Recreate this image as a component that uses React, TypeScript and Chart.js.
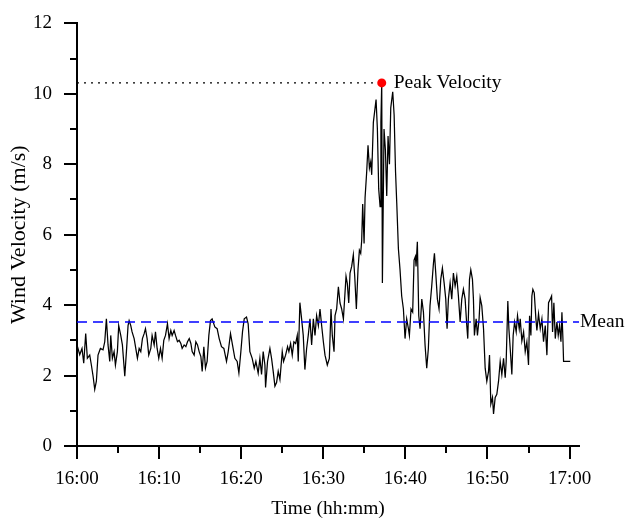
import React, { useEffect, useRef } from "react";
import { Chart, registerables } from "chart.js";

Chart.register(...registerables);

// minutes after 16:00
const times = [
  0.00, 0.33, 0.61, 0.82, 1.06, 1.26, 1.55, 1.75, 1.96, 2.16, 2.36, 2.56, 2.85, 3.17, 3.38, 3.58, 3.78, 3.99, 4.11, 4.31,
  4.52, 4.68, 4.92, 5.08, 5.33, 5.53, 5.82, 6.02, 6.22, 6.35, 6.55, 6.71, 6.96, 7.16, 7.36, 7.57, 7.77, 7.97, 8.18, 8.34,
  8.54, 8.74, 8.99, 9.15, 9.40, 9.56, 9.76, 9.96, 10.17, 10.37, 10.57, 10.78, 11.02, 11.22, 11.43, 11.59, 11.83, 12.00, 12.24, 12.44,
  12.65, 12.81, 13.05, 13.26, 13.46, 13.67, 13.87, 14.03, 14.27, 14.48, 14.68, 14.88, 15.09, 15.25,
  15.45, 15.65, 15.85, 16.06, 16.26, 16.46, 16.79, 17.07, 17.32, 17.60, 17.89, 18.21, 18.42, 18.70, 18.94, 19.23, 19.51, 19.72, 19.96, 20.16,
  20.37, 20.65, 20.85, 21.06, 21.34, 21.59, 21.79, 22.07, 22.28, 22.48, 22.68, 22.89, 22.97, 23.21, 23.50, 23.70, 23.90, 24.11, 24.31, 24.51,
  24.72, 25.00, 25.16, 25.41, 25.65, 25.81, 26.02, 26.22, 26.42, 26.63, 26.83, 26.95, 27.15, 27.36, 27.56, 27.76, 27.97, 28.17,
  28.38, 28.58, 28.79, 28.99, 29.19, 29.40, 29.60, 29.80, 30.01, 30.21, 30.49, 30.74, 30.94, 31.10, 31.31, 31.43, 31.63, 31.84, 32.04, 32.24,
  32.45, 32.57, 32.77, 32.93, 33.10, 33.26, 33.46, 33.66, 33.83, 34.03, 34.23, 34.40, 34.56, 34.68, 34.80, 34.97, 35.09, 35.29, 35.45, 35.62,
  35.78, 35.90, 36.10, 36.31, 36.43, 36.59, 36.75, 36.92, 37.02, 37.12, 37.20, 37.40, 37.57, 37.73, 37.89, 38.06, 38.22, 38.46, 38.63, 38.80,
  38.95, 39.15,
  39.35, 39.55, 39.76, 39.96, 40.16, 40.37, 40.49, 40.69, 40.89, 41.06, 41.22, 41.30, 41.46, 41.63, 41.79, 42.00, 42.20, 42.40, 42.60, 42.80,
  43.00, 43.21, 43.42, 43.54, 43.70, 43.90, 44.10, 44.31, 44.51, 44.72, 44.92, 45.08, 45.24, 45.45, 45.65, 45.85, 46.06, 46.26, 46.46, 46.67,
  46.87, 47.07, 47.28, 47.48, 47.60, 47.81, 47.97, 48.17, 48.29, 48.41, 48.62, 48.78, 48.98,
  49.11, 49.31, 49.52, 49.72, 49.92, 50.13, 50.25, 50.41, 50.61, 50.74, 50.94, 51.14, 51.35, 51.55, 51.75, 51.96, 52.16, 52.28, 52.48, 52.61,
  52.77, 52.97, 53.13, 53.30, 53.50, 53.66, 53.87, 53.99, 54.19, 54.40, 54.60, 54.80, 55.00, 55.13, 55.29, 55.41, 55.53, 55.70, 55.90, 56.02,
  56.22, 56.43, 56.63, 56.83, 57.04, 57.24, 57.44, 57.65, 57.81, 57.93, 58.09, 58.26, 58.46, 58.62, 58.78, 58.95, 59.07, 59.19, 59.27, 60.09,
];

// wind velocity (m/s)
const speeds = [
  2.87, 2.59, 2.77, 2.35, 3.19, 2.49, 2.58, 2.30, 1.98, 1.61, 1.84, 2.58, 2.77, 2.73, 2.96, 3.61, 2.87, 2.40, 3.14, 2.49,
  2.68, 2.30, 2.68, 3.42, 3.14, 2.87, 1.98, 2.68, 3.42, 3.56, 3.42, 3.24, 3.05, 2.77, 2.49, 2.77, 2.68, 3.05, 3.19, 3.33,
  3.05, 2.58, 2.77, 3.14, 2.87, 3.24, 2.77, 2.49, 2.77, 2.49, 3.00, 3.14, 3.47, 3.05, 3.28, 3.14, 3.28, 3.14, 2.96, 3.00,
  2.91, 2.77, 2.87, 2.82, 2.96, 3.05, 2.91, 2.68, 2.58, 2.96, 2.87, 2.68, 2.54, 2.12,
  2.82, 2.21, 2.40, 3.14, 3.56, 3.61, 3.38, 3.33, 3.05, 2.82, 2.77, 2.40, 2.68, 3.19, 2.87, 2.49, 2.40, 2.07, 2.68, 3.24,
  3.61, 3.66, 3.47, 2.68, 2.49, 2.21, 2.40, 2.07, 2.49, 2.03, 2.68, 2.30, 1.66, 2.40, 2.77, 2.49, 2.12, 1.70, 1.80, 2.12,
  1.89, 2.68, 2.40, 2.58, 2.82, 2.68, 2.91, 2.58, 2.96, 2.91, 3.14, 2.40, 4.07, 3.61, 3.14, 2.17, 2.77, 3.14,
  3.61, 2.87, 3.61, 3.14, 3.70, 3.42, 3.89, 3.42, 2.96, 2.58, 2.30, 2.49, 3.89, 3.14, 2.68, 3.70, 3.89, 4.52, 4.06, 3.89,
  3.61, 4.06, 4.82, 4.61, 4.06, 4.91, 5.10, 5.43, 4.82, 3.89, 5.01, 5.56, 5.47, 5.84, 6.87, 5.75, 7.05, 7.79, 8.54, 7.89,
  8.07, 7.70, 9.19, 9.60, 9.84, 9.00, 7.30, 6.80, 9.20, 10.31, 4.63, 9.00, 8.40, 7.10, 8.80, 8.00, 9.60, 10.06, 9.40, 7.80,
  6.90, 5.60,
  5.00, 4.26, 3.89, 3.05, 3.61, 3.33, 3.14, 3.89, 3.80, 5.28, 5.38, 5.10, 5.80, 3.70, 3.33, 4.17, 3.80, 2.86, 2.21, 2.77,
  3.98, 4.54, 5.19, 5.47, 4.91, 4.17, 3.89, 4.73, 5.05, 4.63, 4.17, 3.33, 4.17, 4.63, 4.17, 4.91, 4.54, 4.82, 4.26, 3.52,
  4.17, 4.45, 4.17, 3.42, 3.05, 4.73, 5.00, 4.73, 4.17, 3.14, 3.61, 3.14, 3.61,
  4.21, 3.98, 3.33, 2.21, 1.84, 2.12, 2.58, 1.19, 1.38, 0.91, 1.38, 1.47, 1.84, 2.40, 2.03, 2.49, 1.94, 2.40, 4.12, 3.33,
  2.77, 2.03, 3.14, 3.52, 3.24, 3.70, 3.33, 3.61, 2.98, 3.24, 2.68, 2.96, 2.30, 3.70, 3.14, 4.26, 4.45, 4.35, 3.61, 3.28,
  3.75, 3.33, 3.61, 2.96, 3.42, 2.58, 4.07, 4.17, 4.26, 3.24, 4.07, 3.05, 3.52, 3.14, 3.42, 2.96, 3.80, 3.05, 2.40, 2.40,
];

const meanVelocity = 3.52;
const peakTime = 37.12;
const peakVelocity = 10.31;

const xMajorTicks = [0, 10, 20, 30, 40, 50, 60];
const xTickLabels = ["16:00", "16:10", "16:20", "16:30", "16:40", "16:50", "17:00"];
const xMinorTicks = [5, 15, 25, 35, 45, 55];
const yMajorTicks = [0, 2, 4, 6, 8, 10, 12];
const yMinorTicks = [1, 3, 5, 7, 9, 11];
const X_MAX = 61.15;

const SERIF = '"Liberation Serif", "Times New Roman", Times, serif';

export default function App() {
  const ref = useRef<HTMLCanvasElement>(null);

  useEffect(() => {
    const canvas = ref.current;
    if (!canvas) return;

    const annotate = {
      id: "annotate",
      afterDraw(chart: any) {
        const { ctx, chartArea, scales } = chart;
        const xs = scales.x;
        const ys = scales.y;
        ctx.save();
        ctx.strokeStyle = "#000";
        ctx.lineWidth = 2;
        ctx.beginPath();
        xMinorTicks.forEach((v) => {
          const px = Math.round(xs.getPixelForValue(v));
          ctx.moveTo(px, chartArea.bottom);
          ctx.lineTo(px, chartArea.bottom + 7);
        });
        yMinorTicks.forEach((v) => {
          const py = Math.round(ys.getPixelForValue(v));
          ctx.moveTo(chartArea.left, py);
          ctx.lineTo(chartArea.left - 7, py);
        });
        ctx.stroke();
        ctx.fillStyle = "#000";
        ctx.font = `19.5px ${SERIF}`;
        ctx.textBaseline = "middle";
        ctx.textAlign = "left";
        ctx.fillText("Peak Velocity", xs.getPixelForValue(peakTime) + 12, ys.getPixelForValue(peakVelocity));
        ctx.fillText("Mean", chartArea.right + 1, ys.getPixelForValue(meanVelocity));
        ctx.restore();
      },
    };

    const chart = new Chart(canvas, {
      type: "line",
      data: {
        datasets: [
          {
            label: "Peak",
            data: [{ x: peakTime, y: peakVelocity }],
            showLine: false,
            pointRadius: 4.5,
            pointBackgroundColor: "#ff0000",
            pointBorderColor: "#ff0000",
            pointBorderWidth: 0,
            order: 0,
          },
          {
            label: "Mean",
            data: [
              { x: 0, y: meanVelocity },
              { x: X_MAX, y: meanVelocity },
            ],
            borderColor: "#0000ff",
            borderWidth: 1.6,
            borderDash: [10, 6],
            pointRadius: 0,
            order: 1,
          },
          {
            label: "Wind Velocity",
            data: times.map((t, i) => ({ x: t, y: speeds[i] })),
            borderColor: "#000",
            borderWidth: 1.25,
            pointRadius: 0,
            tension: 0,
            order: 2,
          },
          {
            label: "Peak ref",
            data: [
              { x: 0, y: peakVelocity },
              { x: peakTime, y: peakVelocity },
            ],
            borderColor: "#000",
            borderWidth: 1.4,
            borderDash: [2, 5],
            pointRadius: 0,
            order: 3,
          },
        ],
      },
      options: {
        animation: false,
        responsive: false,
        events: [],
        layout: { padding: { top: 16, right: 47, left: 0, bottom: 0 } },
        plugins: { legend: { display: false }, tooltip: { enabled: false } },
        scales: {
          x: {
            type: "linear",
            min: 0,
            max: X_MAX,
            afterBuildTicks: (axis: any) => {
              axis.ticks = xMajorTicks.map((v) => ({ value: v }));
            },
            afterFit: (axis: any) => {
              axis.height = 79;
            },
            ticks: {
              autoSkip: false,
              maxRotation: 0,
              padding: 9,
              color: "#000",
              font: { family: SERIF, size: 19 },
              callback: (v: any) => {
                const i = xMajorTicks.indexOf(Number(v));
                return i >= 0 ? xTickLabels[i] : "";
              },
            },
            grid: { drawOnChartArea: false, tickLength: 13, lineWidth: 2, color: "#000" },
            border: { display: true, color: "#000", width: 2 },
            title: {
              display: true,
              text: "Time (hh:mm)",
              color: "#000",
              font: { family: SERIF, size: 19.5 },
              padding: { top: 0, bottom: 4 },
            },
          },
          y: {
            type: "linear",
            min: 0,
            max: 12,
            afterBuildTicks: (axis: any) => {
              axis.ticks = yMajorTicks.map((v) => ({ value: v }));
            },
            afterFit: (axis: any) => {
              axis.width = 77;
            },
            ticks: {
              padding: 12,
              color: "#000",
              font: { family: SERIF, size: 19 },
            },
            grid: { drawOnChartArea: false, tickLength: 13, lineWidth: 2, color: "#000" },
            border: { display: true, color: "#000", width: 2 },
            title: {
              display: true,
              text: "Wind Velocity (m/s)",
              color: "#000",
              font: { family: SERIF, size: 22 },
              padding: { top: 6, bottom: 0 },
            },
          },
        },
      },
      plugins: [annotate],
    } as any);

    return () => chart.destroy();
  }, []);

  return (
    <div style={{ position: "fixed", left: 0, top: 0, width: 626, height: 525, background: "#fff" }}>
      <canvas ref={ref} width={626} height={525} style={{ display: "block", width: 626, height: 525 }} />
    </div>
  );
}
